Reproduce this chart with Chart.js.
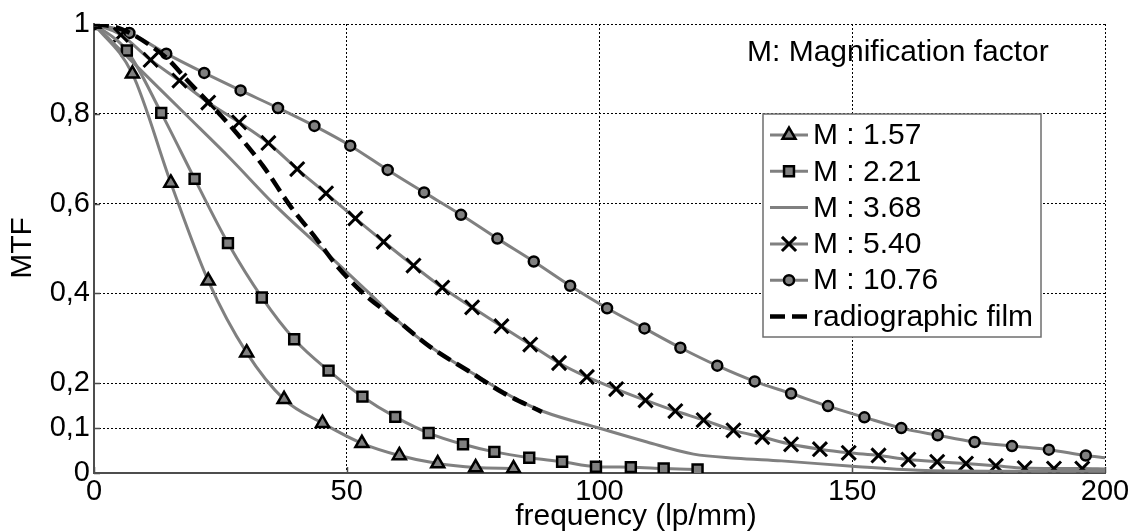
<!DOCTYPE html>
<html>
<head>
<meta charset="utf-8">
<title>MTF vs frequency</title>
<script src="https://cdn.jsdelivr.net/npm/chart.js@4.4.1/dist/chart.umd.min.js"></script>
<style>
html,body{margin:0;padding:0;background:#fff;}
canvas{display:block;}
</style>
</head>
<body>
<canvas id="mtfChart" width="1135" height="531"></canvas>
<script>
// frequency (lp/mm) / MTF pairs for each magnification
const freq157 = [0, 7.6, 15.2, 22.6, 30.2, 37.6, 45.2, 53.0, 60.4, 68.0, 75.5, 83.0];
const mtf157  = [1, 0.889, 0.646, 0.428, 0.268, 0.164, 0.111, 0.066, 0.039, 0.021, 0.012, 0.010];

const freq221 = [0, 6.5, 13.3, 19.9, 26.5, 33.2, 39.6, 46.4, 53.1, 59.6, 66.2, 73.0, 79.2, 86.1, 92.6, 99.3, 106.2, 112.7, 119.4];
const mtf221  = [1, 0.941, 0.802, 0.655, 0.512, 0.391, 0.298, 0.228, 0.170, 0.125, 0.089, 0.064, 0.047, 0.034, 0.025, 0.014, 0.013, 0.010, 0.008];

const freq368 = [0, 9, 18, 27, 35.5, 45, 54.5, 61, 68, 76.4, 83, 88.9, 100.2, 109.4, 118.6, 127, 136, 150, 163, 180, 200];
const mtf368  = [1, 0.9, 0.8, 0.7, 0.6, 0.5, 0.4, 0.33, 0.27, 0.212, 0.168, 0.137, 0.099, 0.069, 0.042, 0.033, 0.027, 0.015, 0.006, 0.004, 0.004];

// last pair of 5.40 and 10.76 is the line end at 200, no marker there
const freq540 = [0, 5.3, 11.2, 16.9, 22.6, 28.7, 34.5, 40.2, 45.9, 51.7, 57.3, 63.2, 68.9, 74.8, 80.6, 86.3, 92.0, 97.5, 103.3, 109.1, 115.0, 120.6, 126.5, 132.2, 137.9, 143.6, 149.3, 155.2, 161.1, 166.8, 172.5, 178.4, 184.1, 189.9, 195.5, 200];
const mtf540  = [1, 0.976, 0.920, 0.874, 0.825, 0.781, 0.735, 0.677, 0.623, 0.567, 0.515, 0.462, 0.413, 0.369, 0.327, 0.286, 0.245, 0.214, 0.187, 0.162, 0.138, 0.118, 0.095, 0.080, 0.064, 0.053, 0.045, 0.039, 0.030, 0.025, 0.021, 0.016, 0.011, 0.010, 0.010, 0.009];

const freq1076 = [0, 7.0, 14.3, 21.8, 29.0, 36.4, 43.6, 50.7, 58.1, 65.3, 72.6, 79.8, 87.0, 94.2, 101.5, 108.9, 116.0, 123.3, 130.7, 137.9, 145.2, 152.4, 159.7, 166.9, 174.2, 181.6, 188.9, 196.2, 200];
const mtf1076  = [1, 0.980, 0.934, 0.891, 0.852, 0.813, 0.773, 0.729, 0.675, 0.625, 0.575, 0.522, 0.471, 0.417, 0.367, 0.322, 0.279, 0.239, 0.204, 0.177, 0.149, 0.124, 0.100, 0.084, 0.069, 0.060, 0.052, 0.039, 0.034];

const freqFilm = [0, 4.2, 7.1, 11.4, 14.4, 19, 22.6, 27.6, 33.5, 38.8, 44.1, 48, 53.3, 59.9, 66.5, 74.4, 81, 88.6];
const mtfFilm  = [1, 0.993, 0.98, 0.95, 0.924, 0.868, 0.826, 0.765, 0.683, 0.595, 0.52, 0.462, 0.400, 0.341, 0.281, 0.225, 0.178, 0.136];

const seriesLabels = ['M : 1.57', 'M : 2.21', 'M : 3.68', 'M : 5.40', 'M : 10.76', 'radiographic film'];
const yTickValues = [0, 0.1, 0.2, 0.4, 0.6, 0.8, 1];
const xTickStep = 50;

const FONT = "'Liberation Sans', Arial, sans-serif";
const GRAY = '#808080';
const AXIS = '#4d4d4d';

Chart.defaults.font.family = FONT;
Chart.defaults.font.size = 29;
Chart.defaults.color = '#000';

function pts(xs, ys){ return xs.map((x,i)=>({x, y: ys[i]})); }

function curve(label, xs, ys, marker){
  return Object.assign({
    label, data: pts(xs, ys),
    borderColor: GRAY, borderWidth: 3, fill: false,
    cubicInterpolationMode: 'monotone',
    pointBackgroundColor: GRAY, pointBorderColor: '#000', pointBorderWidth: 2.5
  }, marker);
}

// no marker on the extra end-of-line point at x = 200
const markerR = r => c => (c.raw && c.raw.x >= 200 ? 0 : r);

const datasets = [
  curve(seriesLabels[0], freq157, mtf157, {pointStyle:'triangle', pointRadius:7.5}),
  curve(seriesLabels[1], freq221, mtf221, {pointStyle:'rect', pointRadius:7}),
  curve(seriesLabels[2], freq368, mtf368, {pointRadius:0}),
  curve(seriesLabels[3], freq540, mtf540, {pointStyle:'crossRot', pointRadius:markerR(10), pointBorderWidth:3}),
  curve(seriesLabels[4], freq1076, mtf1076, {pointStyle:'circle', pointRadius:markerR(5)}),
  {label: seriesLabels[5], data: pts(freqFilm, mtfFilm), borderColor:'#000', borderWidth:4.5,
   borderDash:[15,7], pointRadius:0, fill:false, cubicInterpolationMode:'monotone', order:-1}
];

// small inward tick marks on the two solid axes
const inwardTicks = {
  id: 'inwardTicks',
  beforeDatasetsDraw(chart){
    const {ctx, chartArea:a, scales:{x, y}} = chart;
    ctx.save();
    ctx.strokeStyle = AXIS; ctx.lineWidth = 1.5;
    ctx.beginPath();
    y.ticks.forEach(t=>{ const py = Math.round(y.getPixelForValue(t.value)) + 0.5; ctx.moveTo(a.left, py); ctx.lineTo(a.left+6, py); });
    x.ticks.forEach(t=>{ const px = Math.round(x.getPixelForValue(t.value)) + 0.5; ctx.moveTo(px, a.bottom); ctx.lineTo(px, a.bottom-6); });
    ctx.stroke();
    ctx.restore();
  }
};

// axis titles and the note in the upper right
const labels = {
  id: 'labels',
  afterDraw(chart){
    const ctx = chart.ctx;
    ctx.save();
    ctx.fillStyle = '#000';
    ctx.font = '30px ' + FONT;
    ctx.textBaseline = 'alphabetic';
    ctx.textAlign = 'center';
    ctx.fillText('frequency (lp/mm)', 636, 525);
    ctx.textAlign = 'left';
    ctx.fillText('M: Magnification factor', 747, 61);
    ctx.translate(23, 248);
    ctx.rotate(-Math.PI/2);
    ctx.textAlign = 'center'; ctx.textBaseline = 'middle';
    ctx.fillText('MTF', 0, 0);
    ctx.restore();
  }
};

// boxed legend: line sample with marker, then label
const boxLegend = {
  id: 'boxLegend',
  afterDraw(chart){
    const ctx = chart.ctx;
    const box = {l:763, t:114, r:1041, b:337};
    ctx.save();
    ctx.fillStyle = '#fff';
    ctx.fillRect(box.l, box.t, box.r-box.l, box.b-box.t);
    ctx.strokeStyle = '#6e6e6e'; ctx.lineWidth = 1.5;
    ctx.strokeRect(box.l, box.t, box.r-box.l, box.b-box.t);
    chart.data.datasets.forEach((ds, i)=>{
      const cy = 135 + i*36.3;
      ctx.save();
      ctx.strokeStyle = ds.borderColor; ctx.lineWidth = ds.borderWidth;
      ctx.setLineDash(ds.borderDash || []);
      ctx.beginPath(); ctx.moveTo(770, cy); ctx.lineTo(808, cy); ctx.stroke();
      ctx.restore();
      const r = typeof ds.pointRadius === 'function' ? ds.pointRadius({raw:{x:0}}) : ds.pointRadius;
      if(r > 0){
        ctx.save();
        ctx.fillStyle = ds.pointBackgroundColor; ctx.strokeStyle = ds.pointBorderColor;
        ctx.lineWidth = ds.pointBorderWidth;
        Chart.helpers.drawPoint(ctx, {pointStyle: ds.pointStyle, radius: r, rotation: 0, borderWidth: ds.pointBorderWidth}, 789, cy);
        ctx.restore();
      }
      ctx.fillStyle = '#000'; ctx.font = '30px ' + FONT;
      ctx.textAlign = 'left'; ctx.textBaseline = 'middle';
      ctx.fillText(ds.label, 813, cy + 1);
    });
    ctx.restore();
  }
};

new Chart(document.getElementById('mtfChart'), {
  type: 'line',
  data: {datasets},
  options: {
    responsive: false,
    animation: false,
    events: [],
    layout: {padding: {top: 24, right: 30, left: 0, bottom: 0}},
    plugins: {legend: {display: false}, tooltip: {enabled: false}},
    scales: {
      x: {
        type: 'linear', min: 0, max: 200,
        ticks: {stepSize: xTickStep, padding: 2, maxRotation: 0, autoSkip: false, color: '#000'},
        grid: {color: '#000', lineWidth: 1, drawTicks: false},
        border: {display: true, color: AXIS, width: 2, dash: [2,2]},
        afterFit(s){ s.height = 58; }
      },
      y: {
        type: 'linear', min: 0, max: 1,
        afterBuildTicks(s){ s.ticks = yTickValues.map(v=>({value: v})); },
        ticks: {padding: 4, autoSkip: false, color: '#000', callback: v => String(v).replace('.', ',')},
        grid: {color: '#000', lineWidth: 1, drawTicks: false},
        border: {display: true, color: AXIS, width: 2, dash: [2,2]},
        afterFit(s){ s.width = 94; }
      }
    }
  },
  plugins: [inwardTicks, labels, boxLegend]
});
</script>
</body>
</html>
